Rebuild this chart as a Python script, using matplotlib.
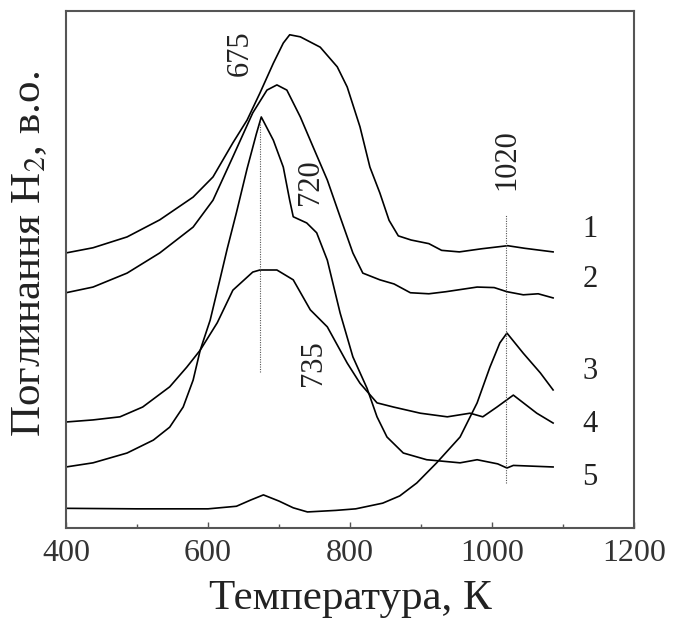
import matplotlib
matplotlib.use('Agg')
import matplotlib.pyplot as plt
from matplotlib.ticker import MultipleLocator

plt.rcParams['font.family'] = ['Liberation Serif', 'DejaVu Serif']
plt.rcParams['mathtext.fontset'] = 'stix'

# Криві ТПВ (температура, К; поглинання, в.о.)
T1 = [400, 438, 486, 532, 579, 607, 635, 655, 673, 692, 706, 715, 730, 758, 782,
      796, 814, 828, 842, 855, 868, 886, 911, 929, 954, 985, 1022, 1046, 1086]
y1 = [53.2, 54.2, 56.3, 59.6, 64.0, 67.9, 74.5, 78.9, 84.1, 89.9, 93.8, 95.4, 95.0, 93.0, 89.2,
      85.3, 77.6, 69.8, 64.8, 59.5, 56.5, 55.7, 55.0, 53.7, 53.4, 54.0, 54.6, 54.1, 53.4]

T2 = [400, 438, 486, 532, 579, 607, 635, 663, 683, 697, 711, 730, 748, 768, 786,
      804, 818, 842, 862, 885, 911, 935, 979, 1003, 1021, 1044, 1065, 1086]
y2 = [45.5, 46.6, 49.3, 53.2, 58.2, 63.4, 71.8, 80.3, 84.7, 85.7, 84.7, 79.5, 73.7, 67.3, 60.2,
      53.2, 49.3, 48.0, 47.2, 45.5, 45.3, 45.7, 46.6, 46.5, 45.7, 45.1, 45.3, 44.5]

T3 = [400, 500, 600, 640, 660, 678, 700, 720, 740, 780, 808, 846, 870, 894, 922,
      955, 979, 997, 1011, 1021, 1044, 1068, 1086]
y3 = [3.8, 3.7, 3.7, 4.2, 5.4, 6.4, 5.2, 3.9, 3.1, 3.4, 3.7, 4.8, 6.2, 8.7, 12.6,
      17.6, 24.2, 31.1, 35.8, 37.7, 33.8, 30.0, 26.7]

T4 = [400, 438, 476, 508, 546, 570, 589, 613, 635, 663, 673, 697, 720, 744, 768,
      796, 814, 838, 861, 899, 937, 969, 987, 1007, 1030, 1063, 1086]
y4 = [20.5, 20.9, 21.5, 23.4, 27.3, 31.1, 34.4, 39.7, 46.0, 49.5, 49.9, 49.9, 48.0, 42.2, 38.9,
      31.9, 28.0, 24.2, 23.4, 22.2, 21.5, 22.2, 21.5, 23.4, 25.7, 22.2, 20.3]

T5 = [400, 438, 486, 523, 546, 565, 579, 589, 603, 617, 627, 640, 655, 668, 675, 692, 706,
      715, 720, 739, 753, 768, 786, 804, 824, 838, 852, 875, 908, 955, 979, 1008, 1021, 1030, 1086]
y5 = [11.8, 12.6, 14.5, 17.0, 19.5, 23.4, 28.6, 34.4, 40.2, 48.2, 54.0, 61.0, 69.5, 76.2, 79.5, 75.0, 69.8,
      63.4, 60.2, 59.0, 57.1, 51.8, 41.6, 33.1, 27.0, 21.5, 17.6, 14.5, 13.2, 12.6, 13.2, 12.4, 11.6, 12.1, 11.8]

curves = [(T1, y1), (T2, y2), (T3, y3), (T4, y4), (T5, y5)]
curve_labels = ['1', '2', '3', '4', '5']
label_y = [57.8, 48.0, 30.2, 20.0, 9.7]

# позначки максимумів: (текст, T, y)
peak_notes = [('675', 645, 91.9), ('720', 744, 66.9), ('735', 748, 31.9), ('1020', 1021, 71.2)]
# пунктирні лінії: (T, y_низ, y_верх)
guides = [(673, 30.2, 78.9), (1020, 8.7, 60.5)]

fig = plt.figure(figsize=(6.85, 6.21), dpi=100)
ax = fig.add_axes([0.0964, 0.1498, 0.8292, 0.8325])

for (T, y) in curves:
    ax.plot(T, y, color='black', linewidth=1.2)

for (x, y0, y1_) in guides:
    ax.plot([x, x], [y0, y1_], color='#555555', linewidth=0.8, linestyle=(0, (1, 1.2)))

for (txt, x, y) in peak_notes:
    ax.text(x, y, txt, rotation=90, ha='center', va='center', fontsize=22, color='#222222')

for lab, y in zip(curve_labels, label_y):
    ax.text(1138, y, lab, ha='center', va='center', fontsize=22, color='#222222')

ax.set_xlim(400, 1200)
ax.set_ylim(0, 100)
ax.xaxis.set_major_locator(MultipleLocator(200))
ax.xaxis.set_minor_locator(MultipleLocator(100))
ax.set_yticks([])
ax.tick_params(axis='x', which='major', direction='in', length=4.5, width=1.0,
               labelsize=23, pad=8, colors='#555555', labelcolor='#333333')
ax.tick_params(axis='x', which='minor', direction='in', length=3, width=1.0, colors='#555555')
for s in ax.spines.values():
    s.set_color('#555555')
    s.set_linewidth(1.5)

ax.set_xlabel('Температура, К', fontsize=31, color='#222222', labelpad=8)
ax.set_ylabel('Поглинання H$_2$, в.о.', fontsize=31, color='#222222')
ax.yaxis.set_label_coords(-0.03, 0.53)

plt.savefig('out.png', dpi=100)
